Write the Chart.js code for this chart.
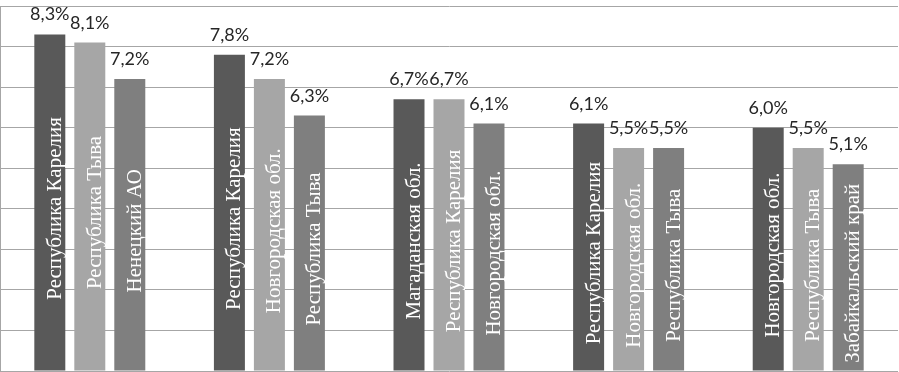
<!DOCTYPE html>
<html><head><meta charset="utf-8">
<script src="https://cdn.jsdelivr.net/npm/chart.js@4/dist/chart.umd.min.js"></script>
<style>html,body{margin:0;padding:0;background:#fff}#wrap{width:899px;height:372px}</style>
</head><body><div id="wrap"><canvas id="c"></canvas></div>
<script>
const categories = ["1", "2", "3", "4", "5"];
const rank1Values = [8.3, 7.8, 6.7, 6.1, 6.0];
const rank2Values = [8.1, 7.2, 6.7, 5.5, 5.5];
const rank3Values = [7.2, 6.3, 6.1, 5.5, 5.1];
const rank1Names = ["Республика Карелия", "Республика Карелия", "Магаданская обл.", "Республика Карелия", "Новгородская обл."];
const rank2Names = ["Республика Тыва", "Новгородская обл.", "Республика Карелия", "Новгородская обл.", "Республика Тыва"];
const rank3Names = ["Ненецкий АО", "Республика Тыва", "Новгородская обл.", "Республика Тыва", "Забайкальский край"];
const yTicks = [0, 1, 2, 3, 4, 5, 6, 7, 8, 9];

const namesByDataset = [rank1Names, rank2Names, rank3Names];
const fmt = v => v.toFixed(1).replace('.', ',') + '%';
const SERIF = '21px "Liberation Serif", "DejaVu Serif", serif';
const SANS = '18px Lato, "Open Sans", sans-serif';

const labelPlugin = {
  id: 'barLabels',
  afterDatasetsDraw(chart) {
    const ctx = chart.ctx;
    chart.data.datasets.forEach((ds, di) => {
      chart.getDatasetMeta(di).data.forEach((bar, i) => {
        const name = namesByDataset[di][i];
        const cy = (bar.y + bar.base) / 2 + 6;
        ctx.save();
        ctx.translate(bar.x + 11, cy);
        ctx.rotate(-Math.PI / 2);
        ctx.font = SERIF;
        ctx.fillStyle = '#ffffff';
        ctx.textAlign = 'center';
        ctx.textBaseline = 'alphabetic';
        ctx.fillText(name, 0, 0);
        ctx.restore();
      });
    });
    chart.data.datasets.forEach((ds, di) => {
      chart.getDatasetMeta(di).data.forEach((bar, i) => {
        ctx.save();
        ctx.font = SANS;
        ctx.fillStyle = '#262626';
        ctx.textAlign = 'center';
        ctx.textBaseline = 'alphabetic';
        ctx.fillText(fmt(ds.data[i]), bar.x, bar.y - 14);
        ctx.restore();
      });
    });
  }
};

new Chart(document.getElementById('c'), {
  type: 'bar',
  data: {
    labels: categories,
    datasets: [
      { label: '1', data: rank1Values, backgroundColor: '#595959' },
      { label: '2', data: rank2Values, backgroundColor: '#a6a6a6' },
      { label: '3', data: rank3Values, backgroundColor: '#7f7f7f' }
    ]
  },
  options: {
    responsive: true,
    maintainAspectRatio: false,
    animation: false,
    layout: { padding: { top: 6, bottom: 1, left: 0, right: 1 } },
    datasets: { bar: { categoryPercentage: 0.668, barPercentage: 0.775 } },
    plugins: { legend: { display: false }, tooltip: { enabled: false } },
    scales: {
      x: {
        grid: { display: false, drawTicks: false },
        ticks: { display: false },
        border: { display: false }
      },
      y: {
        min: yTicks[0], max: yTicks[yTicks.length - 1],
        afterBuildTicks: s => { s.ticks = yTicks.map(v => ({ value: v })); },
        grid: { color: '#a6a6a6', lineWidth: 1, drawTicks: false },
        ticks: { display: false },
        border: { display: true, color: '#a6a6a6', width: 1 }
      }
    }
  },
  plugins: [labelPlugin]
});
</script>
</body></html>
